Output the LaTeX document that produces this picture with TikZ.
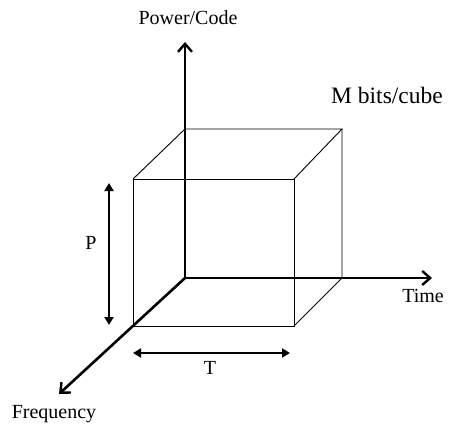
\documentclass[tikz,border=0pt]{standalone}
\usepackage{fontspec}
\setmainfont{Liberation Serif}
\usetikzlibrary{arrows.meta}
\begin{document}
\begin{tikzpicture}[x=1pt,y=-1pt,
  axis/.style={line width=2.6pt,-{Straight Barb[length=8pt,width=14pt,line width=2.4pt]}},
  edge/.style={line width=0.9pt},
  dim/.style={line width=2.4pt,{Triangle[length=8pt,width=9pt]}-{Triangle[length=8pt,width=9pt]}},
  lbl/.style={inner sep=0pt,font=\fontsize{20}{24}\selectfont},
  biglbl/.style={inner sep=0pt,font=\fontsize{23.5}{28}\selectfont}]
\useasboundingbox (0,0) rectangle (449,423);
% cube corners
\coordinate (O) at (185,278);
\coordinate (A) at (133,326);
\coordinate (B) at (294,326);
\coordinate (C) at (294,179);
\coordinate (D) at (133,179);
\coordinate (E) at (342,278);
\coordinate (F) at (342,129);
\coordinate (G) at (185,129);
% axis ends
\coordinate (Ptop) at (185,42);
\coordinate (Tend) at (432,278);
\coordinate (Fend) at (59,394);
% cube edges
\draw[edge] (A) -- (B) -- (C) -- (D) -- cycle;
\draw[edge] (D) -- (G) -- (F) -- (C);
\draw[edge] (F) -- (E) -- (B);
% axes
\draw[axis] (O) -- (Ptop);
\draw[axis] (O) -- (Tend);
\draw[axis] (O) -- (Fend);
% dimension arrows
\coordinate (P1) at (109,183);
\coordinate (P2) at (109,325);
\coordinate (T1) at (133,353);
\coordinate (T2) at (290,353);
\draw[dim] (P1) -- (P2);
\draw[dim] (T1) -- (T2);
% labels
\node[lbl] (lpower) at (188,18) {Power/Code};
\node[biglbl] (lm) at (387,95) {M bits/cube};
\node[lbl] (ltime) at (423,296) {Time};
\node[lbl] (lp) at (91,243) {P};
\node[lbl] (lt) at (210,368) {T};
\node[lbl] (lfreq) at (54,414) {Frequency};
\end{tikzpicture}
\end{document}
